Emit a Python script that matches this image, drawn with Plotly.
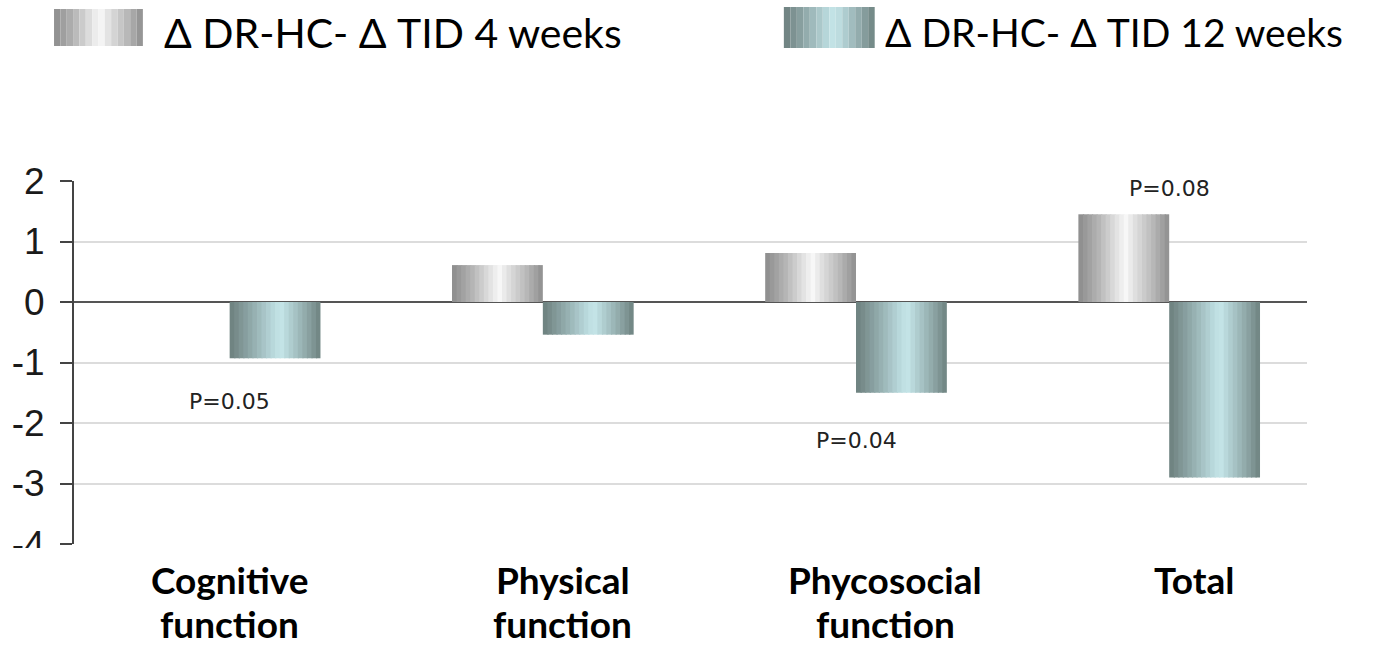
import plotly.graph_objects as go

# ---------------- data ----------------
categories = ["Cognitive function", "Physical function", "Phycosocial function", "Total"]
category_labels = ["Cognitive<br>function", "Physical<br>function", "Phycosocial<br>function", "Total"]
series_names = ["\u0394 DR-HC- \u0394 TID 4 weeks", "\u0394 DR-HC- \u0394 TID 12 weeks"]
delta_4_weeks = [0.0, 0.61, 0.81, 1.45]
delta_12_weeks = [-0.93, -0.54, -1.50, -2.90]
p_labels = ["P=0.05", "", "P=0.04", "P=0.08"]
p_label_y = [-1.65, None, -2.29, 1.87]
y_tick_values = [2, 1, 0, -1, -2, -3, -4]
y_tick_labels = ["2", "1", "0", "-1", "-2", "-3", "-4"]

# ---------------- style ----------------
W, H = 1381, 646
L, R, T, B = 72, 74, 181, 102
PW, PH = W - L - R, H - T - B
BAR_W = 0.29
N_STRIPS = 20
label_xshift = [0, 20, 29, 25]

stops_4 = [(0.0, "#8b8b8b"), (0.22, "#b4b4b4"), (0.42, "#e2e2e2"), (0.52, "#f8f8f8"),
           (0.62, "#e0e0e0"), (0.82, "#b8b8b8"), (1.0, "#8e8e8e")]
stops_12 = [(0.0, "#6c7f7d"), (0.25, "#93acad"), (0.48, "#b9d9dc"), (0.56, "#c6e6e9"),
            (0.66, "#b2d0d3"), (0.86, "#8ca4a4"), (1.0, "#6d8280")]


def hex2rgb(h):
    h = h.lstrip("#")
    return tuple(int(h[i:i + 2], 16) for i in (0, 2, 4))


def grad(stops, t):
    for (p0, c0), (p1, c1) in zip(stops[:-1], stops[1:]):
        if p0 <= t <= p1:
            f = (t - p0) / (p1 - p0) if p1 > p0 else 0
            a, b = hex2rgb(c0), hex2rgb(c1)
            return "rgb(%d,%d,%d)" % tuple(round(a[i] + (b[i] - a[i]) * f) for i in range(3))
    return stops[-1][1]


def px_x(px):
    return (px - L) / PW


def px_y(py):
    return (H - B - py) / PH


fig = go.Figure()

for vals, stops, base in [(delta_4_weeks, stops_4, -BAR_W), (delta_12_weeks, stops_12, 0.0)]:
    for k in range(N_STRIPS):
        t = (k + 0.5) / N_STRIPS
        w = BAR_W / N_STRIPS
        fig.add_trace(go.Bar(
            x=categories, y=vals,
            offset=base + k * w,
            width=w + (0.004 if k < N_STRIPS - 1 else 0),
            marker=dict(color=grad(stops, t), line=dict(width=0)),
            showlegend=False, hoverinfo="skip",
        ))

annotations = []
# category labels (two lines each)
for i, lab in enumerate(category_labels):
    for j, line in enumerate(lab.split("<br>")):
        annotations.append(dict(
            x=categories[i], xref="x", y=0, yref="paper", yanchor="middle",
            xshift=label_xshift[i], yshift=-(35 + 44 * j),
            text="<b>%s</b>" % line, showarrow=False, borderpad=0,
            font=dict(family="Lato", size=37, color="#000000"),
        ))

# p-value labels
for i, (txt, yv) in enumerate(zip(p_labels, p_label_y)):
    if txt:
        annotations.append(dict(
            x=categories[i], xref="x", y=yv, yref="y", text=txt, showarrow=False,
            font=dict(family="DejaVu Sans", size=22, color="#222222"),
        ))

# legend
shapes = []
legend_items = [
    (series_names[0], stops_4, 52, 141, 9, 46, 160, 41),
    (series_names[1], stops_12, 783, 874, 7, 48, 882, 39),
]
for name, stops, x0, x1, y0, y1, tx, fs in legend_items:
    nb = 14
    for k in range(nb):
        t = (k + 0.5) / nb
        shapes.append(dict(
            type="rect", xref="paper", yref="paper", layer="above",
            x0=px_x(x0 + (x1 - x0) * k / nb), x1=px_x(x0 + (x1 - x0) * (k + 1) / nb),
            y0=px_y(y1), y1=px_y(y0),
            fillcolor=grad(stops, t), line=dict(width=0),
        ))
    annotations.append(dict(
        x=px_x(tx), xref="paper", xanchor="left", y=px_y(32), yref="paper", yanchor="middle",
        text=name, showarrow=False, font=dict(family="Lato", size=fs, color="#000000"),
    ))

# white cover that clips the bottom tick label like the original
shapes.append(dict(type="rect", xref="paper", yref="paper", layer="above",
                   x0=px_x(0), x1=px_x(66), y0=px_y(570), y1=px_y(548),
                   fillcolor="white", line=dict(width=0)))

fig.update_layout(
    width=W, height=H,
    margin=dict(l=L, r=R, t=T, b=B, pad=0),
    paper_bgcolor="white", plot_bgcolor="white",
    barmode="overlay",
    showlegend=False,
    annotations=annotations,
    shapes=shapes,
    xaxis=dict(type="category", range=[-0.497, 3.44], showticklabels=False,
               showgrid=False, zeroline=False, showline=False, ticks=""),
    yaxis=dict(range=[-4, 2], tickvals=y_tick_values, ticktext=y_tick_labels,
               showgrid=True, gridcolor="#dcdcdc", gridwidth=2,
               zeroline=True, zerolinecolor="#555555", zerolinewidth=2,
               showline=True, linecolor="#444444", linewidth=2,
               ticks="outside", ticklen=12, tickwidth=2, tickcolor="#444444",
               ticklabelstandoff=8,
               tickfont=dict(family="Liberation Sans", size=37, color="#1a1a1a")),
)

fig.write_html("out.html", config={"displayModeBar": False},
               post_script="document.body.style.margin='0';")
